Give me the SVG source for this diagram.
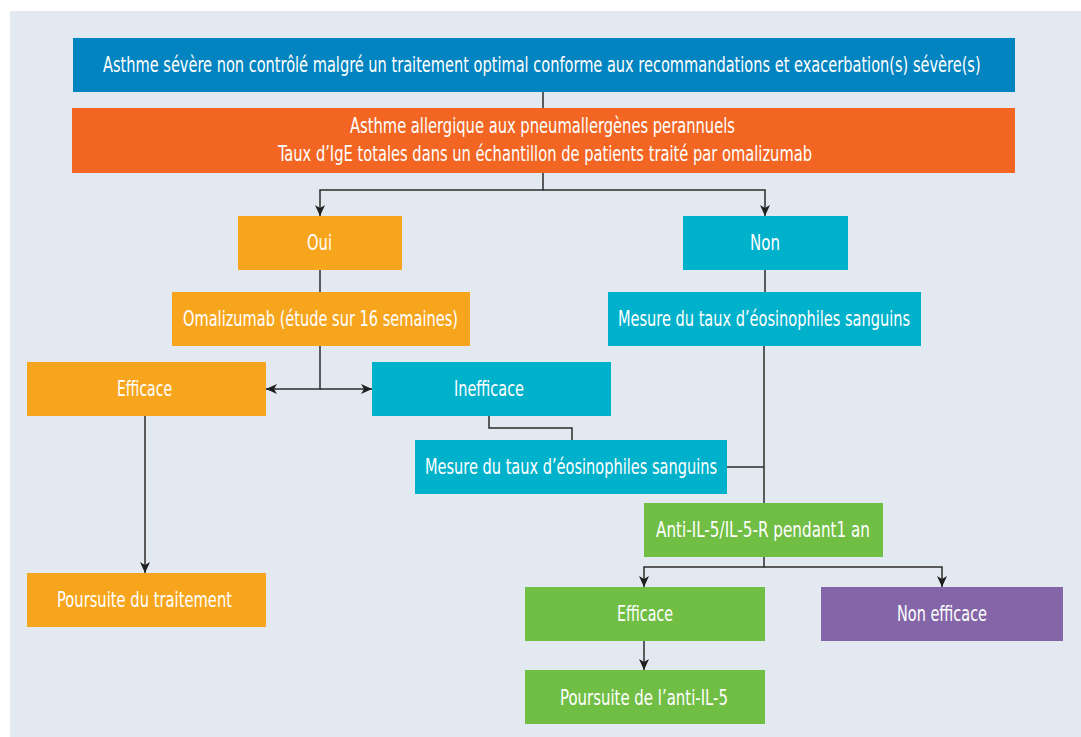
<svg xmlns="http://www.w3.org/2000/svg" width="1081" height="737" viewBox="0 0 1081 737">
<defs>
<style>
.t{font-family:"Liberation Sans Narrow","DejaVu Sans Condensed","Roboto Condensed",sans-serif;font-size:21px;fill:#ffffff;}
.c{fill:none;stroke:#2b2b2b;stroke-width:1.5;}
.blue{fill:#0284C1;}
.orange{fill:#F26522;}
.amber{fill:#F7A51D;}
.cyan{fill:#00B1CB;}
.green{fill:#71BE45;}
.purple{fill:#8466A8;}
</style>
<marker id="arr" markerUnits="userSpaceOnUse" markerWidth="12" markerHeight="10" refX="11" refY="5" orient="auto">
<path d="M0,0 L11,5 L0,10 L3,5 z" fill="#1f1f1f"/>
</marker>
</defs>
<rect x="10" y="11" width="1071" height="726" fill="#E2E9F1"/>
<g id="connectors">
<path class="c" d="M543,92 V108"/>
<path class="c" d="M543,173 V190 H320 V216" marker-end="url(#arr)"/>
<path class="c" d="M543,190 H765 V216" marker-end="url(#arr)"/>
<path class="c" d="M320,270 V292"/>
<path class="c" d="M320,346 V389 H266" marker-end="url(#arr)"/>
<path class="c" d="M320,389 H372" marker-end="url(#arr)"/>
<path class="c" d="M145,416 V573" marker-end="url(#arr)"/>
<path class="c" d="M489,416 V428 H572 V440"/>
<path class="c" d="M765,270 V292"/>
<path class="c" d="M764,346 V503"/>
<path class="c" d="M727,467 H764"/>
<path class="c" d="M764,557 V567 H644 V587" marker-end="url(#arr)"/>
<path class="c" d="M764,567 H942 V587" marker-end="url(#arr)"/>
<path class="c" d="M644,641 V670" marker-end="url(#arr)"/>
</g>
<g id="n-top">
<rect class="blue" x="73" y="38" width="942" height="54"/>
<text class="t" transform="translate(103,72) scale(0.8,1)" x="0" y="0" textLength="1097" lengthAdjust="spacingAndGlyphs">Asthme sévère non contrôlé malgré un traitement optimal conforme aux recommandations et exacerbation(s) sévère(s)</text>
</g>
<g id="n-allergique">
<rect class="orange" x="72" y="108" width="943" height="65"/>
<text class="t" x="350" y="133" textLength="385" lengthAdjust="spacingAndGlyphs">Asthme allergique aux pneumallergènes perannuels</text>
<text class="t" x="278" y="161" textLength="534" lengthAdjust="spacingAndGlyphs">Taux d’IgE totales dans un échantillon de patients traité par omalizumab</text>
</g>
<g id="n-oui">
<rect class="amber" x="238" y="216" width="164" height="54"/>
<text class="t" x="307" y="250" textLength="25" lengthAdjust="spacingAndGlyphs">Oui</text>
</g>
<g id="n-non">
<rect class="cyan" x="683" y="216" width="165" height="54"/>
<text class="t" x="750" y="250" textLength="30" lengthAdjust="spacingAndGlyphs">Non</text>
</g>
<g id="n-omalizumab">
<rect class="amber" x="172" y="292" width="298" height="54"/>
<text class="t" x="183" y="326" textLength="275" lengthAdjust="spacingAndGlyphs">Omalizumab (étude sur 16 semaines)</text>
</g>
<g id="n-mesure1">
<rect class="cyan" x="608" y="292" width="313" height="54"/>
<text class="t" x="618" y="326" textLength="292" lengthAdjust="spacingAndGlyphs">Mesure du taux d’éosinophiles sanguins</text>
</g>
<g id="n-efficace1">
<rect class="amber" x="27" y="362" width="239" height="54"/>
<text class="t" x="117" y="396" textLength="55" lengthAdjust="spacingAndGlyphs">Efficace</text>
</g>
<g id="n-inefficace">
<rect class="cyan" x="372" y="362" width="239" height="54"/>
<text class="t" x="454" y="396" textLength="70" lengthAdjust="spacingAndGlyphs">Inefficace</text>
</g>
<g id="n-mesure2">
<rect class="cyan" x="415" y="440" width="312" height="54"/>
<text class="t" x="425" y="474" textLength="292" lengthAdjust="spacingAndGlyphs">Mesure du taux d’éosinophiles sanguins</text>
</g>
<g id="n-anti">
<rect class="green" x="644" y="503" width="239" height="54"/>
<text class="t" x="656" y="537" textLength="214" lengthAdjust="spacingAndGlyphs">Anti-IL-5/IL-5-R pendant1 an</text>
</g>
<g id="n-poursuite1">
<rect class="amber" x="27" y="573" width="239" height="54"/>
<text class="t" x="57" y="607" textLength="175" lengthAdjust="spacingAndGlyphs">Poursuite du traitement</text>
</g>
<g id="n-efficace2">
<rect class="green" x="525" y="587" width="240" height="54"/>
<text class="t" x="617" y="621" textLength="56" lengthAdjust="spacingAndGlyphs">Efficace</text>
</g>
<g id="n-nonefficace">
<rect class="purple" x="821" y="587" width="242" height="54"/>
<text class="t" x="897" y="621" textLength="90" lengthAdjust="spacingAndGlyphs">Non efficace</text>
</g>
<g id="n-poursuite2">
<rect class="green" x="525" y="670" width="240" height="54"/>
<text class="t" x="560" y="705" textLength="168" lengthAdjust="spacingAndGlyphs">Poursuite de l’anti-IL-5</text>
</g>
</svg>
